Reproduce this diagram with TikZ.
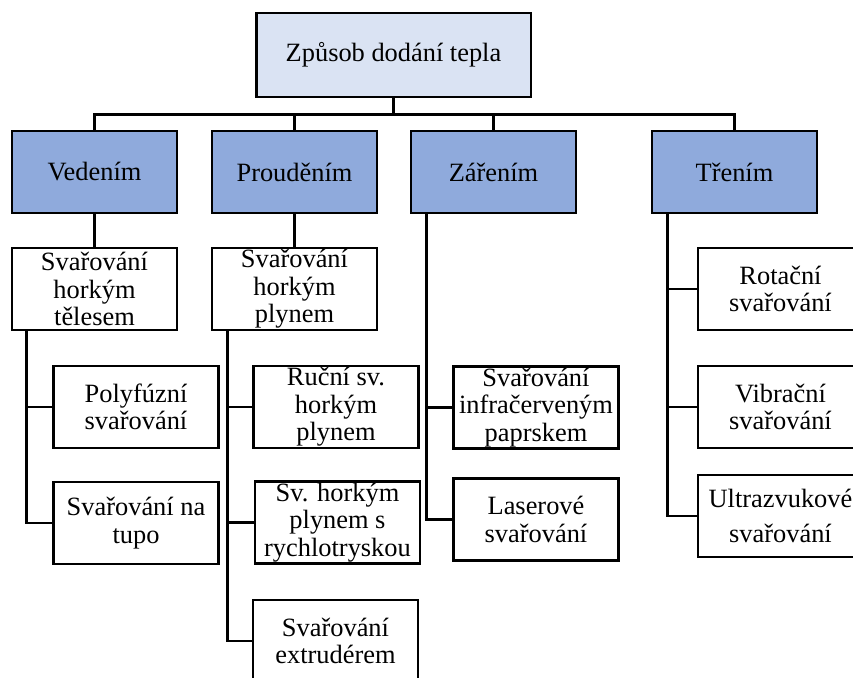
\documentclass[tikz,border=0pt]{standalone}
\usepackage{fontspec}
\setmainfont{Liberation Serif}
\usepackage{tikz}

\definecolor{svetla}{HTML}{DAE3F3}
\definecolor{modra}{HTML}{8FAADC}

\tikzset{
  box/.style={draw=black, line width=2pt, inner sep=0pt, align=center,
    minimum width=123.75pt, minimum height=61.5pt,
    font=\fontsize{19.8}{20.6}\selectfont},
  hlavni/.style={box, fill=svetla, minimum width=206pt, minimum height=63pt},
  druh/.style={box, fill=modra},
  spoj/.style={line width=2pt}
}

\begin{document}
\begin{tikzpicture}[x=0.75pt, y=-0.75pt]
\useasboundingbox (0,0) rectangle (853,678);
\clip (0,0) rectangle (853,678);

\draw
(393.5, 55) node[hlavni](zp){Způsob dodání tepla}
(94.5, 172) node[druh](ved){Vedením}
(294.5, 172) node[druh](pro){Prouděním}
(493.5, 172) node[druh](zar){Zářením}
(734.5, 172) node[druh](tre){Třením}
(94.5, 289) node[box](tel){Svařování\\horkým\\tělesem}
(294.5, 289) node[box](ply){Svařování\\horkým\\plynem}
(136, 407) node[box](pol){Polyfúzní\\svařování}
(136, 523) node[box](tup){Svařování na\\tupo}
(336, 407) node[box](ruc){Ruční sv.\\horkým\\plynem}
(337.5, 522.5) node[box](ryc){Sv. horkým\\plynem s\\rychlotryskou}
(335.5, 641) node[box](ext){Svařování\\extrudérem}
(536, 407.5) node[box](inf){Svařování\\infračerveným\\paprskem}
(536, 519.5) node[box](las){Laserové\\svařování}
(780.5, 289) node[box](rot){Rotační\\svařování}
(780.5, 407) node[box](vib){Vibrační\\svařování}
(780.5, 516) node[box](ult){Ultrazvukové\\[6pt]svařování};

\draw[spoj] (zp.south) -- ++(0,16) -| (ved.north);
\draw[spoj] (zp.south) -- ++(0,16) -| (pro.north);
\draw[spoj] (zp.south) -- ++(0,16) -| (zar.north);
\draw[spoj] (zp.south) -- ++(0,16) -| (tre.north);
\draw[spoj] (ved.south) -- (tel.north);
\draw[spoj] (pro.south) -- (ply.north);
\draw[spoj] (tel.south west) ++(16,0) |- (pol.west);
\draw[spoj] (tel.south west) ++(16,0) |- (tup.west);
\draw[spoj] (ply.south west) ++(17,0) |- (ruc.west);
\draw[spoj] (ply.south west) ++(17,0) |- (ryc.west);
\draw[spoj] (ply.south west) ++(17,0) |- (ext.west);
\draw[spoj] (zar.south west) ++(17,0) |- (inf.west);
\draw[spoj] (zar.south west) ++(17,0) |- (las.west);
\draw[spoj] (tre.south west) ++(17,0) |- (rot.west);
\draw[spoj] (tre.south west) ++(17,0) |- (vib.west);
\draw[spoj] (tre.south west) ++(17,0) |- (ult.west);

\end{tikzpicture}
\end{document}
